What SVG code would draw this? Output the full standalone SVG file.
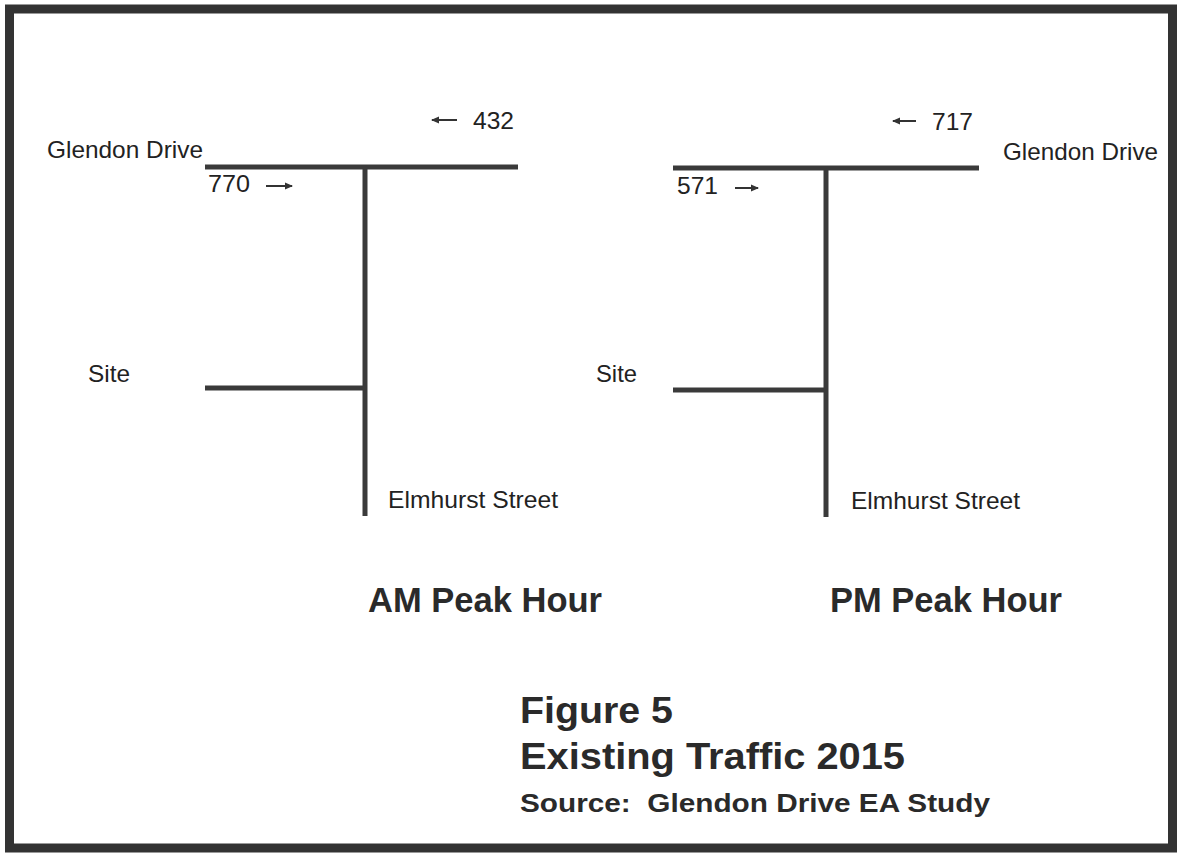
<svg xmlns="http://www.w3.org/2000/svg" width="1182" height="854" viewBox="0 0 1182 854">
<style>
.road{stroke:#3a3a3a;stroke-width:5;fill:none}
.lbl{font-family:"Liberation Sans",Arial,sans-serif;font-size:24.5px;fill:#222}
.ttl{font-family:"Liberation Sans",Arial,sans-serif;font-weight:bold;fill:#2a2a2a;white-space:pre}
.arr{stroke:#333;stroke-width:2;fill:none}
</style>
<defs>
<marker id="ah" markerWidth="8" markerHeight="8" refX="7" refY="4" orient="auto" markerUnits="userSpaceOnUse">
<path d="M0,0.5 L8,4 L0,7.5 Z" fill="#333"/>
</marker>
</defs>
<rect x="0" y="0" width="1182" height="854" fill="#fff"/>
<rect x="9.5" y="9" width="1163" height="839" fill="none" stroke="#333" stroke-width="9"/>
<g id="am-roads">
<line class="road" x1="205" y1="167" x2="518" y2="167"/>
<line class="road" x1="365" y1="167" x2="365" y2="516"/>
<line class="road" x1="205" y1="388" x2="365" y2="388"/>
</g>
<g id="pm-roads">
<line class="road" x1="673" y1="168" x2="979" y2="168"/>
<line class="road" x1="826" y1="168" x2="826" y2="517"/>
<line class="road" x1="673" y1="390" x2="826" y2="390"/>
</g>
<g id="connectors">
<line class="arr" x1="266" y1="186" x2="292" y2="186" marker-end="url(#ah)"/>
<line class="arr" x1="457" y1="120" x2="432" y2="120" marker-end="url(#ah)"/>
<line class="arr" x1="735" y1="188" x2="758" y2="188" marker-end="url(#ah)"/>
<line class="arr" x1="916" y1="121" x2="893" y2="121" marker-end="url(#ah)"/>
</g>
<g id="am-labels">
<text class="lbl" x="47" y="158" textLength="156" lengthAdjust="spacingAndGlyphs">Glendon Drive</text>
<text class="lbl" x="208" y="192" textLength="42" lengthAdjust="spacingAndGlyphs">770</text>
<text class="lbl" x="473" y="129" textLength="41" lengthAdjust="spacingAndGlyphs">432</text>
<text class="lbl" x="88" y="382" textLength="42" lengthAdjust="spacingAndGlyphs">Site</text>
<text class="lbl" x="388" y="508" textLength="170" lengthAdjust="spacingAndGlyphs">Elmhurst Street</text>
<text class="ttl" x="368" y="612" font-size="35" textLength="234" lengthAdjust="spacingAndGlyphs">AM Peak Hour</text>
</g>
<g id="pm-labels">
<text class="lbl" x="1003" y="160" textLength="155" lengthAdjust="spacingAndGlyphs">Glendon Drive</text>
<text class="lbl" x="677" y="194" textLength="41" lengthAdjust="spacingAndGlyphs">571</text>
<text class="lbl" x="932" y="130" textLength="41" lengthAdjust="spacingAndGlyphs">717</text>
<text class="lbl" x="596" y="382" textLength="41" lengthAdjust="spacingAndGlyphs">Site</text>
<text class="lbl" x="851" y="509" textLength="169" lengthAdjust="spacingAndGlyphs">Elmhurst Street</text>
<text class="ttl" x="830" y="612" font-size="35" textLength="232" lengthAdjust="spacingAndGlyphs">PM Peak Hour</text>
</g>
<g id="caption">
<text class="ttl" x="520" y="723" font-size="37" textLength="153" lengthAdjust="spacingAndGlyphs">Figure 5</text>
<text class="ttl" x="520" y="769" font-size="37" textLength="385" lengthAdjust="spacingAndGlyphs">Existing Traffic 2015</text>
<text class="ttl" x="520" y="812" font-size="26" textLength="470" lengthAdjust="spacingAndGlyphs">Source:  Glendon Drive EA Study</text>
</g>
</svg>
